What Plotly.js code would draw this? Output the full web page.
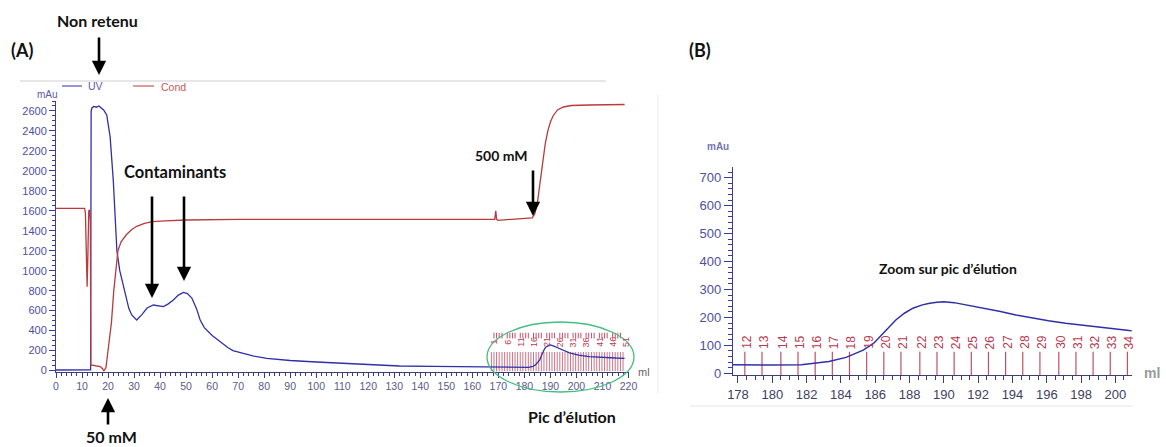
<!DOCTYPE html>
<html>
<head>
<meta charset="utf-8">
<script src="https://cdn.plot.ly/plotly-3.0.1.min.js"></script>
<style>html,body{margin:0;padding:0;background:#fff;}#chart{width:1166px;height:447px;}</style>
</head>
<body>
<div id="chart"></div>
<script>
// ---- data ----
const uvVol = [0, 6, 12.5, 13.3, 13.5, 13.8, 14.5, 15.5, 16.5, 17.5, 18.3, 19.5, 20.8, 22.0, 23.4, 24.5, 26.4, 28.0, 29.1, 31.0,
  33.0, 35.0, 37.4, 39.5, 41.3, 43.0, 45.1, 47.0, 49.0, 50.5, 52.2, 54.0, 55.4, 57.0, 60.0, 63.0, 66.0, 68.0, 72.0, 76.0,
  81.0, 90.0, 100.0, 106.5, 115.0, 125.0, 132.0, 145.0, 155.0, 167.0, 170, 173, 176, 178, 180, 181.7, 182.4, 183.3, 184.3, 185.3,
  185.9, 186.45, 187.2, 187.7, 188.2, 188.7, 189.1, 189.6, 190.0, 190.6, 191.3, 192.3, 193.3, 194.2, 195.2, 196.1, 197.1, 198.1, 199.1, 200.0,
  200.8, 205, 210, 215, 218.5];
const uvAbs = [5, 5, 5, 6, 2600, 2630, 2645, 2638, 2650, 2632, 2610, 2560, 2340, 1910, 1200, 1000, 776, 620, 556, 506,
  560, 626, 656, 648, 640, 665, 706, 755, 783, 770, 726, 620, 506, 430, 350, 290, 230, 200, 170, 145,
  122, 100, 85, 78, 65, 55, 45, 42, 38, 34, 32, 31, 30, 31, 30, 31, 36, 42, 57, 83,
  107, 143, 191, 215, 233, 244, 250, 254, 256, 253, 245, 233, 221, 209, 197, 188, 179, 172, 165, 159,
  153, 140, 130, 125, 122];

const condVol = [0, 11.0, 11.3, 11.7, 11.95, 12.2, 12.6, 12.9, 13.2, 13.4, 15.5, 17.0, 17.8, 18.4, 19.2, 20.3, 21.3, 22.2, 23.0, 23.8,
  25, 27, 29, 31, 34, 37, 42, 50, 70, 100, 130, 160, 168.6, 169.0, 169.3, 169.8, 175, 180, 183, 184,
  185, 186, 187, 188, 189, 190, 191, 192.7, 195, 198, 205, 218.5];
const condVal = [1625, 1625, 1580, 1200, 840, 1100, 1600, 1610, 1500, 55, 48, 40, 20, -5, 30, 250, 480, 800, 1020, 1200,
  1290, 1360, 1410, 1445, 1475, 1492, 1500, 1508, 1515, 1515, 1518, 1520, 1515, 1600, 1515, 1505, 1515, 1520, 1530, 1570,
  1680, 1880, 2100, 2270, 2400, 2490, 2550, 2610, 2640, 2655, 2660, 2665];

const fracNum = [1,2,3,4,5,6,7,8,9,10,11,12,13,14,15,16,17,18,19,20,21,22,23,24,25,26,27,28,29,30,31,32,33,34,35,36,37,38,39,40,41,42,43,44,45,46,47,48,49,50,51];
const fracVol = [167.3,168.3,169.3,170.3,171.4,172.4,173.4,174.4,175.4,176.4,177.4,178.4,179.4,180.5,181.5,182.5,183.5,184.5,185.5,186.5,
  187.5,188.6,189.6,190.6,191.6,192.6,193.6,194.6,195.6,196.7,197.7,198.7,199.7,200.7,201.7,202.7,203.7,204.7,205.8,206.8,
  207.8,208.8,209.8,210.8,211.8,212.8,213.9,214.9,215.9,216.9,217.9];
const fracLabelsA = [1, 6, 11, 16, 21, 26, 31, 36, 41, 46, 51];

const xTicksA = [0,10,20,30,40,50,60,70,80,90,100,110,120,130,140,150,160,170,180,190,200,210,220];
const yTicksA = [0,200,400,600,800,1000,1200,1400,1600,1800,2000,2200,2400,2600];
const xTicksB = [178,180,182,184,186,188,190,192,194,196,198,200];
const yTicksB = [0,100,200,300,400,500,600,700];

// ---- helpers (pixel -> paper) ----
const W = 1166, H = 447;
const px = v => v / W;
const py = v => 1 - v / H;

const UVC = '#2f2fa8', CONDC = '#b83a3a', FRAC = '#c0506a';

function segs(xs, lo, hi) {
  const X = [], Y = [];
  xs.forEach(v => { X.push(v, v, null); Y.push(lo, hi, null); });
  return {X, Y};
}
const fA = segs(fracVol, -10, 185);
const fB = segs(fracVol, -6, 77);

const unlabeled = fracVol.filter((v, i) => fracLabelsA.indexOf(fracNum[i]) < 0);

const traces = [
  {x: fA.X, y: fA.Y, xaxis: 'x', yaxis: 'y', mode: 'lines', line: {color: FRAC, width: 1}, opacity: 0.8, hoverinfo: 'skip', showlegend: false},
  {x: unlabeled, y: unlabeled.map(() => 350), xaxis: 'x', yaxis: 'y', mode: 'markers',
   marker: {symbol: 'line-ns-open', size: 4, color: FRAC, line: {color: FRAC, width: 1}}, hoverinfo: 'skip', showlegend: false},
  {x: fB.X, y: fB.Y, xaxis: 'x2', yaxis: 'y2', mode: 'lines', line: {color: FRAC, width: 1.2}, hoverinfo: 'skip', showlegend: false},
  {x: uvVol, y: uvAbs, name: 'UV', xaxis: 'x', yaxis: 'y', mode: 'lines', line: {color: UVC, width: 1.3}, showlegend: false},
  {x: condVol, y: condVal, name: 'Cond', xaxis: 'x', yaxis: 'y', mode: 'lines', line: {color: CONDC, width: 1.3}, showlegend: false},
  {x: uvVol, y: uvAbs, name: 'UV', xaxis: 'x2', yaxis: 'y2', mode: 'lines', line: {color: UVC, width: 1.5}, showlegend: false, cliponaxis: true}
];

const axCommon = {showgrid: false, zeroline: false, showline: true, ticks: 'outside', tickmode: 'array', fixedrange: true};

const layout = {
  width: W, height: H,
  margin: {l: 0, r: 0, t: 0, b: 0},
  paper_bgcolor: '#fff', plot_bgcolor: 'rgba(0,0,0,0)',
  font: {family: 'Liberation Sans, Arial, sans-serif'},
  xaxis: Object.assign({}, axCommon, {
    domain: [px(56), px(628.5)], range: [0, 220], anchor: 'y',
    tickvals: xTicksA, ticklen: 5, tickcolor: '#3c3c78', linecolor: '#3c3c78', linewidth: 1,
    tickfont: {size: 10.5, color: '#5a5a88'},
    minor: {tickmode: 'linear', tick0: 0, dtick: 2, ticks: 'outside', ticklen: 3, tickcolor: '#3c3c78', showgrid: false}
  }),
  yaxis: Object.assign({}, axCommon, {
    domain: [py(371.5), py(101)], range: [-10, 2700], anchor: 'x',
    tickvals: yTicksA, ticklen: 6, tickcolor: '#3a3aa0', linecolor: '#3a3aa0', linewidth: 1,
    tickfont: {size: 11, color: '#4f4fa0'},
    minor: {tickmode: 'linear', tick0: 0, dtick: 50, ticks: 'outside', ticklen: 3, tickcolor: '#3a3aa0', showgrid: false}
  }),
  xaxis2: Object.assign({}, axCommon, {
    domain: [px(733), px(1131.7)], range: [177.71, 200.95], anchor: 'y2',
    tickvals: xTicksB, ticklen: 7, tickcolor: '#3c3c78', linecolor: '#3c3c78', linewidth: 1.2,
    tickfont: {size: 13, color: '#40405e'},
    minor: {tickmode: 'linear', tick0: 178, dtick: 0.5, ticks: 'outside', ticklen: 4, tickcolor: '#3c3c78', showgrid: false}
  }),
  yaxis2: Object.assign({}, axCommon, {
    domain: [py(375), py(167.1)], range: [-6, 738], anchor: 'x2',
    tickvals: yTicksB, ticklen: 8, tickcolor: '#3a3aa0', linecolor: '#3a3aa0', linewidth: 1.2,
    tickfont: {size: 13, color: '#4f4fa0'},
    minor: {tickmode: 'linear', tick0: 0, dtick: 20, ticks: 'outside', ticklen: 4, tickcolor: '#3a3aa0', showgrid: false}
  }),
  shapes: [
    {type: 'line', xref: 'paper', yref: 'paper', x0: px(20), x1: px(606), y0: py(81), y1: py(81), line: {color: '#cfcfcf', width: 1}},
    {type: 'line', xref: 'paper', yref: 'paper', x0: px(658), x1: px(658), y0: py(95), y1: py(393), line: {color: '#ececec', width: 1}},
    {type: 'line', xref: 'paper', yref: 'paper', x0: px(690), x1: px(1132), y0: py(406), y1: py(406), line: {color: '#e4e4e4', width: 1}},
    {type: 'line', xref: 'paper', yref: 'paper', x0: px(62), x1: px(82), y0: py(86), y1: py(86), line: {color: UVC, width: 1}},
    {type: 'line', xref: 'paper', yref: 'paper', x0: px(133), x1: px(154), y0: py(86), y1: py(86), line: {color: CONDC, width: 1}},
    {type: 'circle', xref: 'paper', yref: 'paper', x0: px(487), x1: px(634), y0: py(392), y1: py(322), line: {color: '#45bd80', width: 1.3}}
  ],
  annotations: []
};

const A = layout.annotations;
function txt(x, y, text, size, color, opts) {
  A.push(Object.assign({xref: 'paper', yref: 'paper', x: px(x), y: py(y), text: text, showarrow: false,
    xanchor: 'center', yanchor: 'middle', font: {family: 'Lato, Open Sans, sans-serif', size: size, color: color}}, opts || {}));
}
function arrow(x, yTip, yTail) {
  A.push({xref: 'paper', yref: 'paper', x: px(x), y: py(yTip), ax: 0, ay: yTail - yTip, text: '', showarrow: true,
    arrowhead: 2, arrowsize: 1.1, arrowwidth: 2.6, arrowcolor: '#000', standoff: 0, startstandoff: 0});
}

txt(22, 50, '<b>(A)</b>', 18, '#111');
txt(700, 50, '<b>(B)</b>', 18, '#111');
txt(97, 20, '<b>Non retenu</b>', 16, '#111');
arrow(99, 75, 36);
txt(175, 172, '<b>Contaminants</b>', 16.5, '#111');
arrow(152, 298, 195);
arrow(184, 281, 195);
txt(501, 155, '<b>500 mM</b>', 14, '#111');
arrow(533, 216, 169);
txt(111, 436, '<b>50 mM</b>', 16, '#111');
arrow(108, 398, 426);
txt(572, 416, '<b>Pic d\u2019élution</b>', 16, '#111');
txt(948, 268, '<b>Zoom sur pic d\u2019élution</b>', 14, '#111');

// axis / legend labels
txt(47, 94, 'mAu', 10, '#5a5aa8', {font: {family: 'Liberation Sans, Arial', size: 10, color: '#5a5aa8'}});
txt(86, 86, 'UV', 10, '#5a5ab0', {xanchor: 'left', font: {family: 'Liberation Sans, Arial', size: 10.5, color: '#5a5ab0'}});
txt(159, 87, 'Cond', 10, '#c05a5a', {xanchor: 'left', font: {family: 'Liberation Sans, Arial', size: 10.5, color: '#c05a5a'}});
txt(644, 372, 'ml', 11, '#666', {font: {family: 'Liberation Sans, Arial', size: 11, color: '#666'}});
txt(718, 146, '<b>mAu</b>', 10, '#7070b0', {font: {family: 'Liberation Sans, Arial', size: 10, color: '#7474b4'}});
txt(1152, 373, '<b>ml</b>', 14, '#999', {font: {family: 'Liberation Sans, Arial', size: 14, color: '#9a9a9a'}});

// fraction labels
fracNum.forEach((n, i) => {
  if (fracLabelsA.indexOf(n) >= 0) {
    A.push({xref: 'x', yref: 'y', x: fracVol[i], y: 285, text: String(n), showarrow: false, textangle: -90,
      xshift: 3, font: {family: 'Liberation Sans, Arial', size: 9, color: '#b83a50'}});
  }
  if (fracVol[i] > 177.9 && fracVol[i] < 201) {
    A.push({xref: 'x2', yref: 'y2', x: fracVol[i], y: 112, text: String(n), showarrow: false, textangle: -90,
      xshift: 2, font: {family: 'Liberation Sans, Arial', size: 12, color: '#b83a50'}});
  }
});

Plotly.newPlot('chart', traces, layout, {staticPlot: true, displayModeBar: false});
</script>
</body>
</html>
